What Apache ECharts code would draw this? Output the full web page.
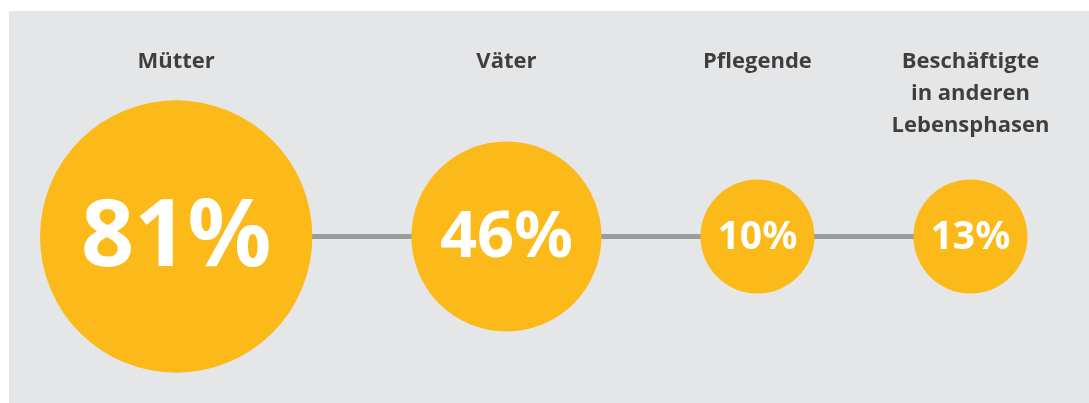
<!DOCTYPE html>
<html>
<head>
<meta charset="utf-8">
<script src="https://cdn.jsdelivr.net/npm/echarts@6/dist/echarts.min.js"></script>
<style>
	html, body { margin: 0; padding: 0; background: #fff; }
	#wrap { position: relative; width: 1089px; height: 403px; background: #fff; }
	#chart { position: absolute; left: 9px; top: 11px; width: 1080px; height: 392px; }
</style>
</head>
<body>
<div id="wrap"><div id="chart"></div></div>
<script>
	// Anteil der Beschäftigten je Gruppe (%)
	const groups = ['Mütter', 'Väter', 'Pflegende', 'Beschäftigte\nin anderen\nLebensphasen'];
	const shares = [81, 46, 10, 13];

	const yellow = '#fbba19';
	const lineGrey = '#9a9b9d';
	const textDark = '#141414';

	// Kreisdurchmesser aus dem Wert (mit Mindestgröße)
	function diameter(v) {
		return Math.max(114, 82 + 2.35 * v);
	}

	// Kreise nebeneinander anordnen, fester Abstand zwischen den Rändern
	const leftPad = 31;
	const gap = 99;
	let xs = [];
	let cursor = leftPad;
	shares.forEach((v, i) => {
		let r = diameter(v) / 2;
		xs.push(cursor + r);
		cursor += 2 * r + gap;
	});

	let circleData = [];
	let nameData = [];
	shares.forEach((v, i) => {
		let d = diameter(v);
		circleData.push({
			value: [xs[i], 0, v],
			symbolSize: d,
			label: { fontSize: Math.round(d * 0.34), offset: [0, Math.round(d * 0.012)] }
		});
		nameData.push({ value: [xs[i], 0], name: groups[i] });
	});

	let chart = echarts.init(document.getElementById('chart'));
	const option = {
		backgroundColor: '#e5e6e8',
		animation: false,
		grid: { left: 0, right: 0, top: 59, bottom: 0 },
		xAxis: { type: 'value', min: 0, max: 1080, show: false },
		yAxis: { type: 'value', min: -1, max: 1, show: false },
		series: [
			{
				type: 'line',
				z: 1,
				symbol: 'none',
				lineStyle: { color: lineGrey, width: 5 },
				data: xs.map(x => [x, 0])
			},
			{
				type: 'scatter',
				z: 3,
				symbol: 'circle',
				itemStyle: { color: yellow, opacity: 1 },
				label: {
					show: true,
					position: 'inside',
					color: '#fff',
					fontFamily: 'Noto Sans',
					fontWeight: 'bold',
					formatter: p => p.value[2] + '%'
				},
				data: circleData
			},
			{
				type: 'scatter',
				z: 4,
				symbolSize: 0,
				label: {
					show: true,
					position: 'inside',
					offset: [0, -191],
					align: 'center',
					verticalAlign: 'top',
					color: textDark,
					fontFamily: 'Open Sans',
					fontWeight: 'bold',
					fontSize: 22,
					lineHeight: 32,
					formatter: p => p.name
				},
				data: nameData
			}
		]
	};
	chart.setOption(option);
</script>
</body>
</html>
